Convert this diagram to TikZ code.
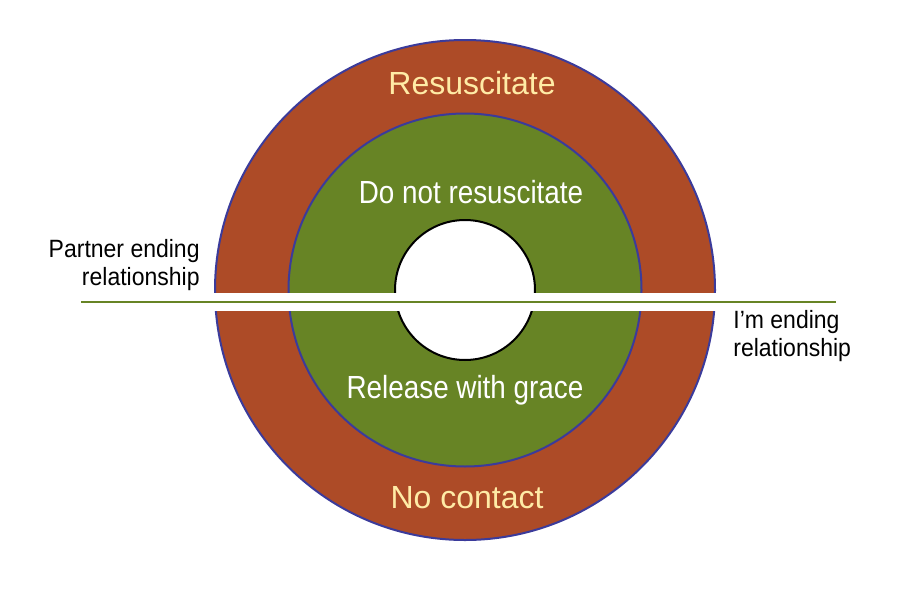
\documentclass[tikz,border=0pt]{standalone}
\usepackage{fontspec}
\setmainfont{Liberation Sans}
\newfontfamily\narrowsans[Ligatures=TeX,FakeStretch=0.87]{Liberation Sans}
\newfontfamily\notesans[Ligatures=TeX,FakeStretch=0.92]{Liberation Sans}
\usetikzlibrary{
    positioning
}
\definecolor{rust}{HTML}{AD4B27}
\definecolor{moss}{HTML}{678425}
\definecolor{rim}{HTML}{3B3B9B}
\definecolor{cream}{HTML}{FFEBA6}

\begin{document}
\begin{tikzpicture}[x=0.5pt,y=0.5pt,
    ring/.style={circle,draw=rim,line width=1pt,inner sep=0pt},
    hole/.style={circle,draw=black,fill=white,line width=1pt,inner sep=0pt,minimum size=70pt},
    zone/.style={font=\narrowsans\fontsize{16}{18}\selectfont,text=white,anchor=base},
    outerzone/.style={zone,font=\rmfamily\fontsize{16}{18}\selectfont,text=cream},
    sidenote/.style={font=\notesans\fontsize{12.5}{14}\selectfont,inner sep=0pt}]
    \useasboundingbox[fill=white] (0,0) rectangle (900,602);
    \node[ring,fill=rust,minimum size=250pt] (outer) at (465,312) {};
    \node[ring,fill=moss,minimum size=176.5pt] (middle) at (outer.center) {};
    \node[hole] (hollow) at (outer.center) {};
    % cut across the rings
    \fill[white] (212,291) rectangle (720,309);
    \coordinate (cutL) at (81,300);
    \coordinate (cutR) at (836,300);
    \draw[moss,line width=1pt] (cutL) -- (cutR);
    \node[outerzone] (resus) at (472,508) {Resuscitate};
    \node[zone] (dnr) at (471,399) {Do not resuscitate};
    \node[zone] (grace) at (465,204) {Release with grace};
    \node[outerzone] (nocontact) at (467,94) {No contact};
    \node[sidenote,anchor=east,align=right] (partner) at (200,337) {Partner ending\\relationship};
    \node[sidenote,anchor=west,align=left] (mine) at (733,266) {I'm ending\\relationship};
\end{tikzpicture}
\end{document}
